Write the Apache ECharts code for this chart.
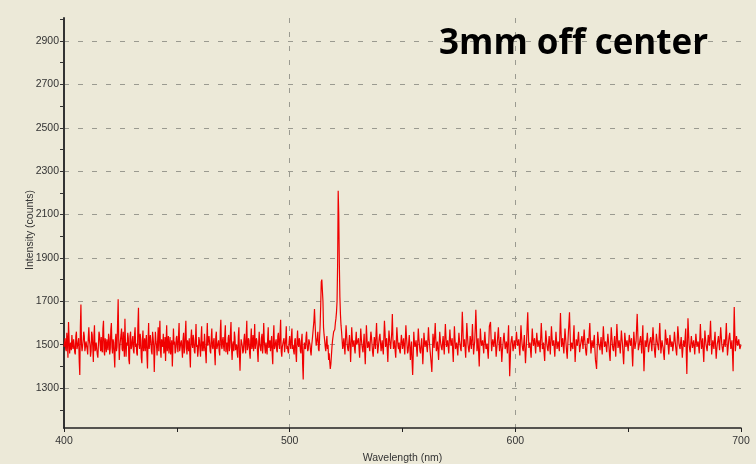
<!DOCTYPE html>
<html>
<head>
<meta charset="utf-8">
<title>3mm off center</title>
<script src="https://cdn.jsdelivr.net/npm/echarts@6.0.0/dist/echarts.min.js"></script>
<style>
  html, body { margin: 0; padding: 0; background: #ECE9D8; }
  #chart { width: 756px; height: 464px; }
</style>
</head>
<body>
<div id="chart"></div>
<script>
// 波长轴：400-700 nm
var wlStart = 400;
var wlStep = 0.5;

// 读自图中的强度值 (counts)，整 0.5 nm 点，每行 10 nm
var intensity = [
    1490,1530,1470,1520,1605,1460,1510,1545,1480,1500,1455,1560,1495,1530,1360,1685,1470,1520,1540,1490,
    1510,1455,1580,1500,1470,1545,1420,1590,1480,1515,1440,1560,1500,1535,1465,1610,1450,1500,1525,1475,
    1530,1480,1600,1460,1510,1395,1550,1490,1710,1430,1520,1575,1470,1505,1620,1445,1495,1530,1410,1560,
    1490,1540,1460,1580,1505,1450,1670,1480,1520,1415,1565,1500,1470,1545,1390,1600,1485,1515,1455,1530,
    1374,1560,1495,1520,1470,1610,1440,1505,1550,1480,1425,1590,1500,1460,1535,1490,1400,1575,1515,1470,
    1540,1465,1600,1490,1520,1440,1555,1480,1610,1455,1505,1530,1395,1570,1485,1520,1460,1595,1500,1475,
    1520,1445,1585,1500,1470,1545,1415,1600,1490,1510,1460,1575,1480,1530,1405,1560,1495,1520,1450,1615,
    1480,1535,1470,1590,1500,1455,1545,1490,1605,1430,1515,1560,1475,1500,1440,1580,1380,1525,1495,1470,
    1550,1460,1610,1490,1520,1435,1575,1500,1470,1595,1480,1515,1420,1560,1495,1530,1460,1600,1485,1510,
    1455,1580,1500,1470,1540,1410,1590,1490,1525,1465,1555,1480,1615,1445,1505,1530,1470,1585,1495,1460,
    1540,1480,1575,1500,1455,1530,1420,1565,1490,1515,1460,1550,1340,1510,1480,1560,1470,1525,1500,1450,
    1520,1580,1665,1540,1500,1560,1470,1590,1790,1805,1580,1520,1470,1540,1500,1460,1388,1450,1520,1560,
    1570,1620,1700,2210,1880,1640,1560,1480,1530,1455,1590,1500,1470,1545,1420,1580,1490,1520,1460,1560,
    1495,1530,1440,1575,1500,1465,1550,1410,1590,1485,1515,1470,1560,1500,1445,1535,1480,1600,1460,1510,
    1550,1470,1520,1455,1610,1490,1530,1420,1565,1500,1475,1642,1480,1520,1440,1580,1495,1510,1460,1545,
    1480,1530,1455,1590,1500,1470,1545,1430,1515,1360,1560,1490,1520,1445,1575,1500,1460,1530,1410,1555,
    1490,1520,1465,1580,1500,1440,1374,1550,1485,1600,1470,1515,1430,1560,1500,1475,1540,1455,1595,1490,
    1520,1460,1570,1495,1530,1420,1585,1480,1510,1450,1555,1500,1470,1652,1490,1525,1440,1600,1505,1465,
    1540,1480,1595,1455,1515,1661,1470,1530,1400,1575,1495,1520,1460,1560,1480,1505,1435,1585,1605,1470,
    1525,1490,1560,1445,1510,1580,1470,1535,1420,1500,1555,1480,1515,1460,1590,1355,1505,1540,1470,1520,
    1480,1560,1495,1525,1450,1590,1500,1470,1545,1415,1520,1650,1485,1510,1440,1575,1495,1530,1460,1555,
    1490,1520,1465,1600,1480,1510,1425,1565,1500,1470,1540,1455,1585,1495,1520,1445,1560,1480,1515,1470,
    1646,1490,1530,1460,1575,1500,1435,1555,1650,1470,1510,1480,1590,1420,1525,1495,1560,1465,1505,1540,
    1480,1570,1495,1450,1530,1505,1600,1460,1520,1485,1545,1430,1388,1560,1500,1475,1535,1455,1585,1490,
    1515,1465,1550,1490,1425,1580,1500,1470,1540,1445,1595,1485,1520,1460,1565,1500,1410,1555,1490,1520,
    1470,1545,1495,1530,1400,1560,1480,1515,1642,1475,1505,1540,1460,1590,1378,1520,1490,1555,1465,1510,
    1535,1470,1580,1495,1440,1550,1505,1475,1600,1460,1520,1485,1430,1570,1500,1530,1455,1545,1490,1515,
    1470,1560,1495,1450,1585,1505,1480,1535,1440,1520,1490,1575,1365,1622,1500,1465,1540,1485,1520,1455,
    1550,1490,1515,1460,1595,1480,1530,1420,1565,1500,1470,1545,1495,1610,1455,1520,1480,1560,1435,1505,
    1540,1475,1580,1500,1465,1525,1490,1600,1450,1515,1555,1480,1520,1378,1674,1470,1540,1495,1525,1480,
    1500
];

// 读自图中的强度值 (counts)，半步点 (x.25 / x.75 nm)，每行 10 nm
var intensityHalf = [
    1510,1480,1555,1440,1530,1500,1475,1500,1525,1465,1540,1480,1510,1420,1580,1500,1495,1560,1470,1515,
    1480,1530,1520,1445,1560,1490,1535,1470,1510,1455,1500,1545,1470,1480,1575,1470,1530,1465,1495,1550,
    1455,1570,1490,1525,1450,1520,1470,1600,1520,1490,1545,1480,1560,1445,1500,1510,1555,1430,1540,1480,
    1520,1475,1545,1490,1460,1590,1500,1550,1440,1525,1470,1530,1505,1450,1520,1480,1545,1470,1560,1495,
    1480,1515,1450,1580,1540,1470,1525,1490,1460,1535,1510,1470,1540,1495,1455,1520,1480,1500,1460,1530,
    1490,1545,1470,1510,1480,1525,1460,1550,1490,1520,1470,1455,1530,1500,1545,1470,1520,1490,1445,1535,
    1480,1530,1470,1515,1550,1460,1520,1495,1540,1470,1530,1490,1515,1460,1535,1480,1505,1470,1560,1495,
    1520,1490,1545,1465,1510,1530,1470,1555,1480,1500,1470,1535,1490,1460,1540,1450,1470,1510,1460,1525,
    1490,1540,1475,1530,1460,1520,1480,1545,1510,1480,1530,1465,1505,1500,1470,1550,1495,1520,1460,1480,
    1530,1485,1520,1505,1460,1530,1480,1510,1475,1540,1500,1550,1470,1490,1520,1465,1525,1480,1470,1515,
    1500,1535,1480,1470,1520,1460,1515,1500,1530,1470,1520,1410,1470,1490,1535,1500,1480,1520,1470,1495,
    1550,1610,1600,1495,1530,1480,1530,1680,1800,1700,1545,1490,1510,1480,1430,1420,1410,1490,1540,1565,
    1600,1650,1870,2100,1720,1590,1520,1500,1490,1530,1545,1480,1510,1500,1495,1530,1510,1480,1520,1500,
    1520,1480,1510,1530,1480,1510,1470,1500,1530,1495,1490,1520,1535,1465,1490,1510,1545,1520,1485,1535,
    1510,1495,1480,1535,1560,1510,1475,1500,1530,1480,1560,1530,1500,1470,1510,1535,1480,1470,1505,1520,
    1505,1490,1520,1540,1460,1510,1490,1480,1420,1450,1515,1500,1480,1510,1530,1470,1500,1480,1470,1520,
    1510,1490,1520,1530,1470,1410,1460,1520,1540,1530,1490,1470,1500,1525,1485,1510,1495,1530,1540,1505,
    1490,1520,1525,1510,1470,1505,1530,1495,1480,1505,1520,1480,1560,1580,1505,1480,1520,1550,1480,1500,
    1510,1530,1520,1490,1580,1580,1500,1460,1490,1530,1505,1490,1520,1515,1490,1470,1510,1595,1530,1500,
    1505,1520,1500,1480,1545,1520,1500,1480,1470,1530,1515,1495,1490,1530,1470,1430,1525,1500,1495,1505,
    1520,1525,1510,1485,1520,1540,1480,1510,1475,1470,1590,1560,1500,1470,1515,1530,1510,1495,1510,1520,
    1505,1490,1535,1540,1490,1460,1500,1530,1480,1510,1495,1520,1535,1505,1480,1505,1520,1500,1490,1560,
    1560,1515,1490,1520,1535,1465,1500,1600,1560,1490,1495,1540,1500,1475,1510,1530,1510,1490,1525,1510,
    1530,1525,1465,1495,1520,1560,1530,1490,1500,1520,1480,1410,1470,1530,1490,1505,1490,1525,1535,1500,
    1490,1510,1520,1450,1510,1540,1480,1510,1490,1525,1540,1500,1490,1515,1530,1450,1480,1525,1505,1495,
    1510,1520,1510,1460,1480,1520,1500,1580,1560,1490,1525,1500,1530,1480,1450,1505,1525,1510,1490,1525,
    1500,1530,1535,1465,1500,1525,1490,1545,1530,1490,1500,1455,1500,1540,1515,1490,1500,1520,1500,1470,
    1515,1530,1470,1520,1550,1490,1510,1485,1480,1505,1535,1460,1500,1560,1480,1505,1510,1505,1490,1505,
    1520,1500,1490,1530,1530,1505,1470,1495,1530,1485,1510,1520,1555,1530,1490,1500,1525,1490,1475,1520,
    1505,1530,1540,1480,1495,1510,1545,1520,1480,1540,1515,1500,1450,1530,1560,1505,1515,1510,1500,1490
];

// 刻度
var xTicks = [400, 450, 500, 550, 600, 650, 700];
var xLabels = [400, 500, 600, 700];
var xGrid = [500, 600];
var yTicks = [1200, 1300, 1400, 1500, 1600, 1700, 1800, 1900, 2000, 2100, 2200, 2300, 2400, 2500, 2600, 2700, 2800, 2900, 3000];
var yLabels = [1300, 1500, 1700, 1900, 2100, 2300, 2500, 2700, 2900];
var yGrid = [1300, 1500, 1700, 1900, 2100, 2300, 2500, 2700, 2900];

// 交错合并整点与半步点
var seriesData = [];
intensity.forEach(function (v, i) {
    var wl = wlStart + i * wlStep;
    seriesData.push([wl, v]);
    if (i < intensityHalf.length) {
        seriesData.push([wl + wlStep / 2, intensityHalf[i]]);
    }
});

var chart = echarts.init(document.getElementById('chart'), null, { renderer: 'canvas' });

var axisFont = 'Liberation Sans';
var gridLine = {
    show: true,
    lineStyle: { color: '#9a9a90', width: 1, type: [5, 9] }
};

var option = {
    backgroundColor: '#ECE9D8',
    animation: false,
    title: {
        text: '3mm off center',
        left: 434,
        top: 22,
        textStyle: {
            fontFamily: 'Open Sans',
            fontWeight: 'bold',
            fontSize: 35,
            color: '#000'
        }
    },
    grid: {
        left: 64,
        right: 15,
        top: 18,
        bottom: 36,
        outerBoundsMode: 'none'
    },
    xAxis: [{
        type: 'value',
        min: 400,
        max: 700,
        position: 'bottom',
        name: 'Wavelength (nm)',
        nameLocation: 'middle',
        nameGap: 25,
        nameMoveOverlap: false,
        nameTextStyle: { fontFamily: axisFont, fontSize: 10.5, color: '#333' },
        axisLine: { show: true, lineStyle: { color: '#222', width: 1.5 } },
        axisTick: { show: true, length: 4, customValues: xTicks, lineStyle: { color: '#222' } },
        axisLabel: { customValues: xLabels, margin: 8, fontFamily: axisFont, fontSize: 10.5, color: '#333' },
        splitLine: { show: false }
    }, {
        type: 'value',
        min: 400,
        max: 700,
        position: 'bottom',
        axisLine: { show: false },
        axisTick: { show: false, customValues: xGrid },
        axisLabel: { show: false },
        splitLine: gridLine
    }],
    yAxis: [{
        type: 'value',
        min: 1116,
        max: 3006,
        position: 'left',
        name: 'Intensity (counts)',
        nameLocation: 'middle',
        nameGap: 28,
        nameMoveOverlap: false,
        nameTextStyle: { fontFamily: axisFont, fontSize: 10.5, color: '#333', padding: [0, 0, 0, -14] },
        axisLine: { show: true, lineStyle: { color: '#333', width: 2 } },
        axisTick: { show: true, length: 4, customValues: yTicks, lineStyle: { color: '#333' } },
        axisLabel: {
            customValues: yLabels,
            margin: 5,
            fontFamily: axisFont,
            fontSize: 10.5,
            color: '#333',
            formatter: function (v) { return String(v); }
        },
        splitLine: { show: false }
    }, {
        type: 'value',
        min: 1116,
        max: 3006,
        position: 'left',
        axisLine: { show: false },
        axisTick: { show: false, customValues: yGrid },
        axisLabel: { show: false },
        splitLine: gridLine
    }],
    series: [{
        name: 'Intensity',
        type: 'line',
        xAxisIndex: 0,
        yAxisIndex: 0,
        showSymbol: false,
        sampling: null,
        lineStyle: { color: '#f00000', width: 1.2 },
        data: seriesData
    }]
};
chart.setOption(option);
</script>
</body>
</html>
